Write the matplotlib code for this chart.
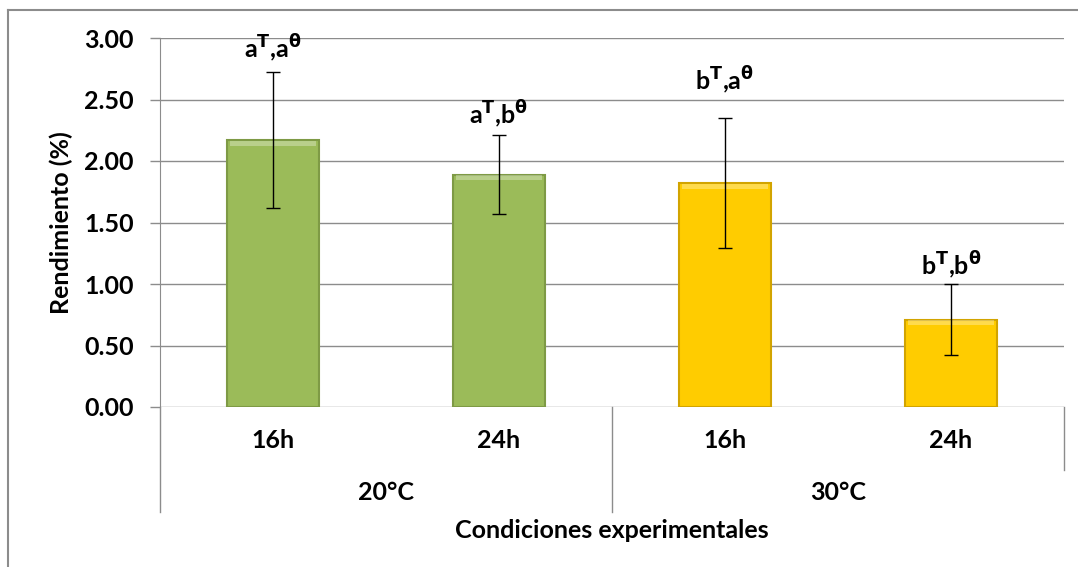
import numpy as np
import matplotlib
matplotlib.use("Agg")
import matplotlib.pyplot as plt
from matplotlib.lines import Line2D

plt.rcParams['font.family'] = ['Lato', 'DejaVu Sans']
plt.rcParams['mathtext.fontset'] = 'custom'
plt.rcParams['mathtext.rm'] = 'DejaVu Sans:bold'
plt.rcParams['mathtext.it'] = 'DejaVu Sans:bold'
plt.rcParams['mathtext.bf'] = 'DejaVu Sans:bold'

# data
tiempos = ['16h', '24h', '16h', '24h']
temperaturas = ['20°C', '30°C']
rendimiento = [2.17, 1.89, 1.82, 0.71]
error = [0.55, 0.32, 0.53, 0.29]
letras = [r'a$^{T}$,a$^{\theta}$', r'a$^{T}$,b$^{\theta}$',
          r'b$^{T}$,a$^{\theta}$', r'b$^{T}$,b$^{\theta}$']
label_gap = [6, 4, 16, 2]  # points above error bar

colores = ['#9BBB59', '#9BBB59', '#FFCC00', '#FFCC00']
bordes = ['#7E9A45', '#7E9A45', '#D2A400', '#D2A400']

FS = 18

fig = plt.figure(figsize=(10.78, 5.67), dpi=100)
ax = fig.add_axes([160/1078, 1 - 407/567, (1064 - 160)/1078, (407 - 38)/567])

x = np.arange(len(rendimiento))
ax.bar(x, rendimiento, width=0.41, color=colores, edgecolor=bordes, linewidth=1.5, zorder=3)
# light bevel on top of bars
for xi, v in zip(x, rendimiento):
    ax.bar(xi, 0.04, bottom=v - 0.045, width=0.38, color='white', alpha=0.3, zorder=4, linewidth=0)
ax.errorbar(x, rendimiento, yerr=error, fmt='none', ecolor='black', elinewidth=1,
            capsize=5, capthick=1, zorder=5)

for xi, v, e, t, g in zip(x, rendimiento, error, letras, label_gap):
    ax.annotate(t, (xi, v + e), xytext=(0, g), textcoords='offset points',
                ha='center', va='bottom', fontsize=FS, fontweight='bold')

ax.set_ylim(0, 3)
ax.set_xlim(-0.5, 3.5)
ax.set_yticks(np.arange(0, 3.01, 0.5))
ax.set_yticklabels([f'{v:.2f}' for v in np.arange(0, 3.01, 0.5)], fontsize=FS, fontweight='bold')
ax.yaxis.grid(True, color='#8C8C8C', linewidth=1, zorder=0)
ax.set_axisbelow(True)
ax.tick_params(axis='y', length=7, width=1, color='#8C8C8C', pad=12)
ax.set_xticks([])
for s in ['top', 'right', 'bottom']:
    ax.spines[s].set_visible(False)
ax.spines['left'].set_color('#8C8C8C')
ax.spines['left'].set_bounds(0, 3)
ax.set_ylabel('Rendimiento (%)', fontsize=FS, fontweight='bold', labelpad=8)

# hierarchical category axis
trans = ax.get_xaxis_transform()
ax.add_line(Line2D([-0.5, -0.5], [0, -0.285], transform=trans, color='#8C8C8C', lw=1, clip_on=False))
ax.add_line(Line2D([1.5, 1.5], [0, -0.285], transform=trans, color='#8C8C8C', lw=1, clip_on=False))
ax.add_line(Line2D([3.5, 3.5], [0, -0.171], transform=trans, color='#8C8C8C', lw=1, clip_on=False))
for xi, t in zip(x, tiempos):
    ax.text(xi, -0.092, t, transform=trans, ha='center', va='center', fontsize=FS, fontweight='bold')
for i, t in enumerate(temperaturas):
    ax.text(2 * i + 0.5, -0.232, t, transform=trans, ha='center', va='center', fontsize=FS, fontweight='bold')
ax.text(1.5, -0.336, 'Condiciones experimentales', transform=trans, ha='center', va='center',
        fontsize=FS, fontweight='bold')

# chart frame
fig.add_artist(Line2D([8/1078, 8/1078], [0, 1 - 10/567], transform=fig.transFigure, color='#8C8C8C', lw=1.5))
fig.add_artist(Line2D([8/1078, 1], [1 - 10/567, 1 - 10/567], transform=fig.transFigure, color='#8C8C8C', lw=1.5))

fig.savefig('out.png', dpi=100)
